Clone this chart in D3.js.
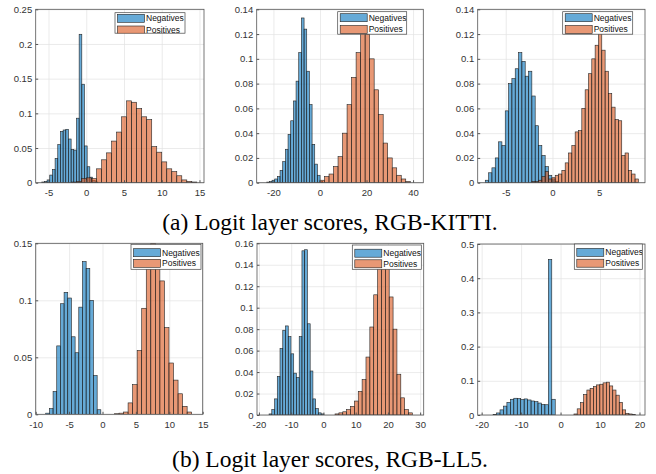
<!DOCTYPE html>
<html lang="en">
<head>
<meta charset="UTF-8">
<title>Logit layer scores</title>
<script src="https://d3js.org/d3.v7.min.js"></script>
<style>
  body { margin: 0; background: #fff; }
  svg { display: block; font-family: "Liberation Sans", Arial, sans-serif; }
  .tick text { fill: #333; font-size: 9.5px; }
  .legend text { fill: #111; font-size: 8.5px; }
  .caption { font-family: "Liberation Serif", "Times New Roman", serif; font-size: 23.5px; fill: #000; }
</style>
</head>
<body>
<svg width="656" height="474"></svg>
<script>
// histogram heights (probability), one array per panel and class
const negA1 = [0.001, 0.002, 0.004, 0.011, 0.019, 0.035, 0.055, 0.074, 0.076, 0.077, 0.063, 0.048, 0.047, 0.093, 0.214, 0.142, 0.053, 0.023, 0.008, 0.003, 0.001];
const posA1 = [0.001, 0.002, 0.006, 0.007, 0.006, 0.02, 0.033, 0.043, 0.06, 0.073, 0.095, 0.118, 0.116, 0.107, 0.095, 0.091, 0.052, 0.044, 0.03, 0.02, 0.016, 0.01, 0.004, 0.002, 0.001];
const negA2 = [0.0005, 0.001, 0.002, 0.003, 0.005, 0.01, 0.017, 0.027, 0.039, 0.05, 0.066, 0.082, 0.105, 0.133, 0.124, 0.09, 0.063, 0.031, 0.015, 0.006, 0.001];
const posA2 = [0.002, 0.005, 0.007, 0.013, 0.021, 0.04, 0.063, 0.085, 0.105, 0.13, 0.12, 0.1, 0.075, 0.055, 0.032, 0.02, 0.012, 0.006, 0.003, 0.001];
const negA3 = [0.002, 0.008, 0.012, 0.02, 0.033, 0.03, 0.058, 0.08, 0.084, 0.092, 0.105, 0.098, 0.086, 0.09, 0.07, 0.046, 0.03, 0.022, 0.013, 0.006, 0.003, 0.001];
const posA3 = [0.001, 0.001, 0.002, 0.005, 0.009, 0.003, 0.004, 0.006, 0.007, 0.01, 0.016, 0.024, 0.03, 0.041, 0.042, 0.06, 0.075, 0.088, 0.1, 0.111, 0.121, 0.107, 0.09, 0.072, 0.061, 0.051, 0.05, 0.022, 0.024, 0.01, 0.007, 0.003];
const negB1 = [0.001, 0.005, 0.02, 0.06, 0.097, 0.107, 0.102, 0.068, 0.054, 0.094, 0.134, 0.128, 0.1, 0.034, 0.004];
const posB1 = [0.0005, 0.001, 0.002, 0.01, 0.026, 0.056, 0.093, 0.135, 0.15, 0.14, 0.117, 0.076, 0.045, 0.03, 0.018, 0.007, 0.002];
const negB2 = [0.001, 0.005, 0.015, 0.036, 0.062, 0.079, 0.083, 0.073, 0.057, 0.039, 0.035, 0.073, 0.153, 0.154, 0.085, 0.041, 0.015, 0.006, 0.002, 0.001];
const posB2 = [0.001, 0.002, 0.003, 0.005, 0.008, 0.013, 0.022, 0.033, 0.054, 0.082, 0.112, 0.138, 0.155, 0.14, 0.11, 0.08, 0.038, 0.016, 0.005, 0.002];
const negB3 = [0.002, 0.006, 0.015, 0.026, 0.037, 0.046, 0.049, 0.048, 0.045, 0.047, 0.044, 0.041, 0.039, 0.035, 0.031, 0.03, 0.455, 0.046];
const posB3 = [0.003, 0.018, 0.036, 0.06, 0.073, 0.078, 0.083, 0.088, 0.09, 0.094, 0.096, 0.085, 0.073, 0.058, 0.037, 0.015, 0.005, 0.003, 0.001];

// first bin edge and bin width, per panel
const negStart = [-5.9, -22.9, -7.19, -8.5, -16.86, -17.1];
const negWidth = [0.354, 1.147, 0.356, 0.55, 0.85, 0.875];
const posStart = [-1.95, 0, -2.2, 1.79, 3.6, 3.39];
const posWidth = [0.664, 1.94, 0.356, 0.68, 1.2, 0.82];

// axes
const xDomains = [[-6.7, 15.6], [-27.2, 44.4], [-8, 9.9], [-10, 15], [-20.6, 31.1], [-21, 21.4]];
const xTicks = [[-5, 0, 5, 10, 15], [-20, 0, 20, 40], [-5, 0, 5], [-10, -5, 0, 5, 10, 15], [-20, -10, 0, 10, 20, 30], [-20, -10, 0, 10, 20]];
const yMax = [0.25, 0.14, 0.14, 0.15, 0.16, 0.5];
const yStep = [0.05, 0.02, 0.02, 0.05, 0.02, 0.1];
const seriesNames = ["Negatives", "Positives"];
const captions = ["(a) Logit layer scores, RGB-KITTI.", "(b) Logit layer scores, RGB-LL5."];

const negData = [negA1, negA2, negA3, negB1, negB2, negB3];
const posData = [posA1, posA2, posA3, posB1, posB2, posB3];

// layout: [left, top, right, bottom] of each axes box, legend [x, y, w, h]
const boxes = [[35.7, 9.3, 204, 182.7], [256.7, 9.3, 423.3, 182.7], [477.7, 9.3, 645, 182.7],
               [35.7, 243.3, 202.7, 414.3], [257, 243.3, 423.7, 415], [477.7, 244, 645, 415]];
const legends = [[115, 12.7, 70, 20.5], [337.7, 11.7, 69, 22.5], [562.7, 11.7, 70, 22.5],
                 [131, 244.3, 70, 25], [352.3, 245, 69, 24.3], [574.3, 244, 68, 25.3]];
const rowOffsets = [[5.6, 17.3], [6, 17.8], [6, 17.8], [8.4, 19], [8.2, 18.8], [8.4, 19.2]];

const colors = ["#0072bd", "#d95319"];
const svg = d3.select("svg");
const fmt = d => String(+d.toFixed(3));

function drawPanel(k) {
  const [l, t, r, b] = boxes[k];
  const w = r - l, h = b - t;
  const x = d3.scaleLinear().domain(xDomains[k]).range([0, w]);
  const y = d3.scaleLinear().domain([0, yMax[k]]).range([h, 0]);
  const yT = d3.range(0, yMax[k] + 1e-9, yStep[k]);
  const g = svg.append("g").attr("transform", "translate(" + l + "," + t + ")");

  g.append("clipPath").attr("id", "clip" + k)
    .append("rect").attr("width", w).attr("height", h);

  // grid
  g.append("g").attr("transform", "translate(0," + h + ")")
    .call(d3.axisBottom(x).tickValues(xTicks[k]).tickSize(-h).tickFormat(""))
    .call(s => s.select(".domain").remove())
    .selectAll("line").attr("stroke", "#e3e3e3").attr("stroke-width", 0.7);
  g.append("g")
    .call(d3.axisLeft(y).tickValues(yT).tickSize(-w).tickFormat(""))
    .call(s => s.select(".domain").remove())
    .selectAll("line").attr("stroke", "#e3e3e3").attr("stroke-width", 0.7);

  const bars = g.append("g").attr("clip-path", "url(#clip" + k + ")");
  [[negData[k], negStart[k], negWidth[k]], [posData[k], posStart[k], posWidth[k]]].forEach((s, si) => {
    const [vals, x0, bw] = s;
    bars.append("g").selectAll("rect").data(vals).enter().append("rect")
      .attr("x", (d, i) => x(x0 + i * bw))
      .attr("width", (d, i) => x(x0 + (i + 1) * bw) - x(x0 + i * bw))
      .attr("y", d => y(d))
      .attr("height", d => y(0) - y(d))
      .attr("fill", colors[si]).attr("fill-opacity", 0.6)
      .attr("stroke", "#222").attr("stroke-width", 0.6);
  });

  // box
  g.append("rect").attr("width", w).attr("height", h)
    .attr("fill", "none").attr("stroke", "#555").attr("stroke-width", 0.8);

  g.append("g").attr("transform", "translate(0," + h + ")")
    .call(d3.axisBottom(x).tickValues(xTicks[k]).tickFormat(fmt).tickSizeInner(-2.5).tickSizeOuter(0).tickPadding(6.5))
    .call(s => s.select(".domain").remove())
    .selectAll("line").attr("stroke", "#555");
  g.append("g")
    .call(d3.axisLeft(y).tickValues(yT).tickFormat(fmt).tickSizeInner(-2.5).tickSizeOuter(0).tickPadding(3.5))
    .call(s => s.select(".domain").remove())
    .selectAll("line").attr("stroke", "#555");
  g.selectAll(".tick text").attr("font-family", null).attr("font-size", null);

  // legend
  const [lx, ly, lw, lh] = legends[k];
  const lg = svg.append("g").attr("class", "legend");
  lg.append("clipPath").attr("id", "lclip" + k)
    .append("rect").attr("x", lx).attr("y", ly).attr("width", lw).attr("height", lh);
  lg.append("rect").attr("x", lx).attr("y", ly).attr("width", lw).attr("height", lh)
    .attr("fill", "#fff").attr("stroke", "#444").attr("stroke-width", 0.7);
  const inner = lg.append("g").attr("clip-path", "url(#lclip" + k + ")");
  seriesNames.forEach((name, si) => {
    const cy = ly + rowOffsets[k][si];
    inner.append("rect").attr("x", lx + 2.5).attr("y", cy - 4).attr("width", 27).attr("height", 8)
      .attr("fill", colors[si]).attr("fill-opacity", 0.6).attr("stroke", "#222").attr("stroke-width", 0.6);
    inner.append("text").attr("x", lx + 31).attr("y", cy).attr("dy", "0.35em").text(name);
  });
}

d3.range(6).forEach(drawPanel);

svg.append("text").attr("class", "caption").attr("x", 330).attr("y", 230)
  .attr("text-anchor", "middle").text(captions[0]);
svg.append("text").attr("class", "caption").attr("x", 330).attr("y", 467)
  .attr("text-anchor", "middle").text(captions[1]);
</script>
</body>
</html>
